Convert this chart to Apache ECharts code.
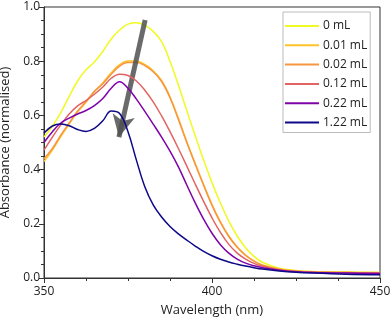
<!DOCTYPE html>
<html>
<head>
<meta charset="utf-8">
<script src="https://cdn.jsdelivr.net/npm/echarts@6/dist/echarts.min.js"></script>
<style>
  html, body { margin: 0; padding: 0; background: #fff; }
  #chartArea { width: 392px; height: 320px; }
</style>
</head>
<body>
<div id="chartArea"></div>
<script>
// wavelength grid (nm)
var wavelengths = [350, 352.5, 355, 357.5, 360, 362.5, 365, 367.5, 370, 372.5, 375, 377.5,
                   380, 382.5, 385, 387.5, 390, 392.5, 395, 397.5, 400, 402.5, 405, 407.5,
                   410, 412.5, 415, 420, 425, 430, 440, 450];

var seriesNames = ['0 mL', '0.01 mL', '0.02 mL', '0.12 mL', '0.22 mL', '1.22 mL'];

var abs0 = [0.52, 0.56, 0.61, 0.67, 0.727, 0.768, 0.797, 0.836, 0.882, 0.915, 0.937, 0.942,
            0.932, 0.91, 0.872, 0.80, 0.712, 0.618, 0.525, 0.435, 0.352, 0.277, 0.21, 0.155,
            0.112, 0.08, 0.058, 0.036, 0.028, 0.024, 0.022, 0.02];
var abs001 = [0.43, 0.472, 0.522, 0.568, 0.613, 0.648, 0.688, 0.72, 0.757, 0.787, 0.801, 0.801,
              0.788, 0.765, 0.729, 0.669, 0.589, 0.503, 0.423, 0.345, 0.271, 0.207, 0.155, 0.115,
              0.085, 0.063, 0.048, 0.033, 0.026, 0.023, 0.021, 0.02];
var abs002 = [0.44, 0.478, 0.527, 0.572, 0.616, 0.651, 0.689, 0.717, 0.752, 0.782, 0.795, 0.795,
              0.784, 0.761, 0.725, 0.665, 0.585, 0.50, 0.42, 0.342, 0.268, 0.205, 0.153, 0.113,
              0.083, 0.062, 0.047, 0.032, 0.025, 0.022, 0.02, 0.019];
var abs012 = [0.472, 0.52, 0.565, 0.605, 0.635, 0.655, 0.678, 0.705, 0.737, 0.752, 0.747, 0.727,
              0.693, 0.65, 0.598, 0.54, 0.478, 0.413, 0.347, 0.283, 0.222, 0.168, 0.124, 0.092,
              0.07, 0.054, 0.043, 0.03, 0.024, 0.021, 0.019, 0.018];
var abs022 = [0.50, 0.54, 0.572, 0.59, 0.605, 0.618, 0.636, 0.662, 0.70, 0.724, 0.70, 0.66,
              0.615, 0.568, 0.52, 0.468, 0.41, 0.343, 0.277, 0.217, 0.165, 0.123, 0.092, 0.07,
              0.055, 0.045, 0.038, 0.029, 0.023, 0.02, 0.018, 0.017];
var abs122 = [0.535, 0.561, 0.568, 0.562, 0.548, 0.541, 0.552, 0.58, 0.616, 0.607, 0.54, 0.435,
              0.337, 0.27, 0.225, 0.19, 0.163, 0.14, 0.118, 0.098, 0.082, 0.069, 0.059, 0.051,
              0.044, 0.038, 0.033, 0.026, 0.021, 0.018, 0.014, 0.012];

var seriesValues = [abs0, abs001, abs002, abs012, abs022, abs122];
var lineColors = ['#f0f921', '#fdc328', '#f89540', '#e16462', '#7e03a8', '#0d0887'];

// arrow annotation: start / end in data units
var arrowStart = [380.1, 0.952];
var arrowEnd = [372.3, 0.52];

var fontFamily = '"Open Sans", "DejaVu Sans", sans-serif';
var labelStyle = { color: '#222', fontSize: 12, fontFamily: fontFamily };
var axisLine = { lineStyle: { color: '#333', width: 1 } };

var myChart = echarts.init(document.getElementById('chartArea'), null, { renderer: 'canvas' });

var series = seriesValues.map(function(vals, i) {
    var s = {
        name: seriesNames[i],
        type: 'line',
        data: wavelengths.map(function(w, j) { return [w, vals[j]]; }),
        smooth: 0.4,
        showSymbol: false,
        color: lineColors[i],
        lineStyle: { width: 1.5, color: lineColors[i] },
        animation: false,
        z: 2 + i
    };
    if (i === seriesValues.length - 1) {
        s.markLine = {
            silent: true,
            animation: false,
            symbol: ['none', 'arrow'],
            symbolSize: [17, 22],
            label: { show: false },
            lineStyle: { color: '#505050', width: 5, type: 'solid', opacity: 0.85 },
            data: [[{ coord: arrowStart }, { coord: arrowEnd }]]
        };
    }
    return s;
});

myChart.setOption({
    backgroundColor: '#fff',
    animation: false,
    grid: {
        left: 44, right: 12, top: 7, bottom: 42,
        outerBoundsMode: 'none',
        containLabel: false,
        show: true, borderColor: '#333', borderWidth: 1
    },
    legend: {
        data: seriesNames,
        orient: 'vertical',
        left: 283,
        top: 12,
        padding: [8, 3, 4, 2],
        itemGap: 7.3,
        itemWidth: 34,
        itemHeight: 2,
        icon: 'rect',
        borderColor: '#bbb',
        borderWidth: 1,
        backgroundColor: '#fff',
        textStyle: { color: '#222', fontSize: 12, fontFamily: fontFamily, padding: [0, 0, 0, -1] }
    },
    xAxis: {
        type: 'value',
        min: 350,
        max: 450,
        interval: 50,
        name: 'Wavelength (nm)',
        nameLocation: 'middle',
        nameGap: 26,
        nameTextStyle: { color: '#222', fontSize: 13, fontFamily: fontFamily },
        axisLine: axisLine,
        axisTick: { show: true, length: 5, lineStyle: { color: '#333' } },
        minorTick: { show: true, splitNumber: 4, length: 3, lineStyle: { color: '#333' } },
        axisLabel: labelStyle,
        splitLine: { show: false }
    },
    yAxis: {
        type: 'value',
        min: 0,
        max: 1,
        interval: 0.2,
        name: 'Absorbance (normalised)',
        nameLocation: 'middle',
        nameGap: 27,
        nameTextStyle: { color: '#222', fontSize: 13, fontFamily: fontFamily },
        axisLine: Object.assign({ show: true }, axisLine),
        axisTick: { show: true, length: 5, lineStyle: { color: '#333' } },
        minorTick: { show: true, splitNumber: 4, length: 3, lineStyle: { color: '#333' } },
        axisLabel: Object.assign({
            margin: 4,
            formatter: function(v) { return v.toFixed(1); }
        }, labelStyle),
        splitLine: { show: false }
    },
    series: series
});
</script>
</body>
</html>
